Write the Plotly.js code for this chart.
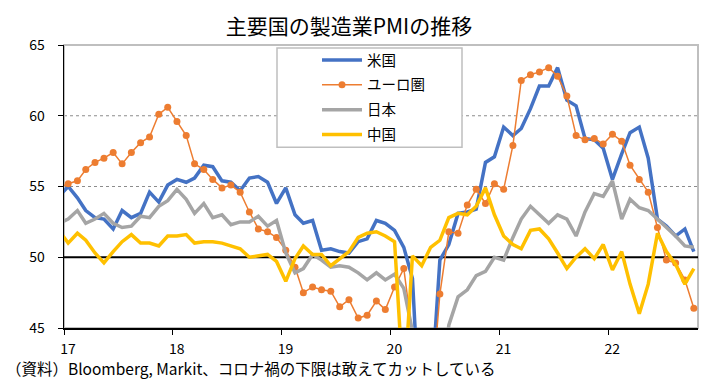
<!DOCTYPE html>
<html>
<head>
<meta charset="utf-8">
<script src="https://cdn.plot.ly/plotly-3.0.1.min.js"></script>
<style>html,body{margin:0;padding:0;background:#fff;}</style>
</head>
<body>
<div id="chart" style="width:724px;height:392px;"></div>
<script>
// Monthly categories: Dec 2016 .. Oct 2022 (Dec 2016 lies just left of the axis and is clipped)
const firstYear = 2016, firstMonth = 12, monthCount = 71;
const months = [];
for (let k = 0; k < monthCount; k++) {
  const t = (firstMonth - 1) + k;
  const y = firstYear + Math.floor(t / 12);
  const m = (t % 12) + 1;
  months.push(y + '-' + String(m).padStart(2, '0'));
}

const seriesNames = ['米国', 'ユーロ圏', '日本', '中国'];

const usPMI = [54.3,
  55.0, 54.2, 53.3, 52.8, 52.7, 52.0, 53.3, 52.8, 53.1, 54.6, 53.9, 55.1,
  55.5, 55.3, 55.6, 56.5, 56.4, 55.4, 55.3, 54.7, 55.6, 55.7, 55.3, 53.8,
  54.9, 53.0, 52.4, 52.6, 50.5, 50.6, 50.4, 50.3, 51.1, 51.3, 52.6, 52.4,
  51.9, 50.7, 48.5, 36.1, 39.8, 49.8, 50.9, 53.1, 53.2, 53.4, 56.7, 57.1,
  59.2, 58.6, 59.1, 60.5, 62.1, 62.1, 63.4, 61.1, 60.7, 58.4, 58.3, 57.7,
  55.5, 57.3, 58.8, 59.2, 57.0, 52.7, 52.2, 51.5, 52.0, 50.4];

const euroPMI = [54.9,
  55.2, 55.4, 56.2, 56.7, 57.0, 57.4, 56.6, 57.4, 58.1, 58.5, 60.1, 60.6,
  59.6, 58.6, 56.6, 56.2, 55.5, 54.9, 55.1, 54.6, 53.2, 52.0, 51.8, 51.4,
  50.5, 49.3, 47.5, 47.9, 47.7, 47.6, 46.5, 47.0, 45.7, 45.9, 46.9, 46.3,
  47.9, 49.2, 44.5, 33.4, 39.4, 47.4, 51.8, 51.7, 53.7, 54.8, 53.8, 55.2,
  54.8, 57.9, 62.5, 62.9, 63.1, 63.4, 62.8, 61.4, 58.6, 58.3, 58.4, 58.0,
  58.7, 58.2, 56.5, 55.5, 54.6, 52.1, 49.8, 49.6, 48.4, 46.4];

const japanPMI = [52.4,
  52.7, 53.3, 52.4, 52.7, 53.1, 52.4, 52.1, 52.2, 52.9, 52.8, 53.6, 54.0,
  54.8, 54.1, 53.1, 53.8, 52.8, 53.0, 52.3, 52.5, 52.5, 52.9, 52.2, 52.6,
  50.3, 48.9, 49.2, 50.2, 49.8, 49.3, 49.4, 49.3, 48.9, 48.4, 48.9, 48.4,
  48.8, 47.8, 44.8, 41.9, 38.4, 40.1, 45.2, 47.2, 47.7, 48.7, 49.0, 50.0,
  49.8, 51.4, 52.7, 53.6, 53.0, 52.4, 53.0, 52.7, 51.5, 53.2, 54.5, 54.3,
  55.4, 52.7, 54.1, 53.5, 53.3, 52.7, 52.1, 51.5, 50.8, 50.7];

const chinaPMI = [51.9,
  51.0, 51.7, 51.2, 50.3, 49.6, 50.4, 51.1, 51.6, 51.0, 51.0, 50.8, 51.5,
  51.5, 51.6, 51.0, 51.1, 51.1, 51.0, 50.8, 50.6, 50.0, 50.1, 50.2, 49.7,
  48.3, 49.9, 50.8, 50.2, 50.2, 49.4, 49.9, 50.4, 51.4, 51.7, 51.8, 51.5,
  51.1, 40.3, 50.1, 49.4, 50.7, 51.2, 52.8, 53.1, 53.0, 53.6, 54.9, 53.0,
  51.5, 50.9, 50.6, 51.9, 52.0, 51.3, 50.3, 49.2, 50.0, 50.6, 49.9, 50.9,
  49.1, 50.4, 48.1, 46.0, 48.1, 51.7, 50.4, 49.5, 48.1, 49.2];

const xTickDates = ['2017-01-01', '2018-01-01', '2019-01-01', '2020-01-01', '2021-01-01', '2022-01-01'];
const xTickLabels = ['17', '18', '19', '20', '21', '22'];
const yTickVals = [45, 50, 55, 60, 65];

const titleText = '主要国の製造業PMIの推移';
const noteText = '（資料）Bloomberg, Markit、コロナ禍の下限は敢えてカットしている';

// ---- build ----
const xs = months.map(m => m + '-15');  // plotted mid-month
const FONT = '"Noto Sans CJK JP", "Noto Sans", sans-serif';

const traces = [
  {x: xs, y: usPMI, name: seriesNames[0], mode: 'lines', legendgroup: 'g1',
   line: {color: '#4472C4', width: 3.5}},
  {x: xs, y: euroPMI, name: seriesNames[1], mode: 'lines+markers', legendgroup: 'g2',
   line: {color: '#ED7D31', width: 1.5}, marker: {color: '#ED7D31', size: 7}},
  {x: xs, y: japanPMI, name: seriesNames[2], mode: 'lines', legendgroup: 'g3',
   line: {color: '#A5A5A5', width: 3.5}},
  {x: xs, y: chinaPMI, name: seriesNames[3], mode: 'lines', legendgroup: 'g4',
   line: {color: '#FFC000', width: 3.5}}
];

// pixel geometry helpers
const W = 724, H = 392;
const L = 64, R = 698, T = 45, B = 328.5;
const px2x = p => (p - L) / (R - L);
const px2y = p => (B - p) / (B - T);

const shapes = [
  // dashed gridlines
  {type: 'line', xref: 'paper', x0: 0, x1: 1, yref: 'y', y0: 55, y1: 55, layer: 'below',
   line: {color: '#8C8C8C', width: 1, dash: '3px,3px'}},
  {type: 'line', xref: 'paper', x0: 0, x1: 1, yref: 'y', y0: 60, y1: 60, layer: 'below',
   line: {color: '#8C8C8C', width: 1, dash: '3px,3px'}},
  // plot border (top/right grey)
  {type: 'rect', xref: 'paper', yref: 'paper', x0: 0, x1: 1, y0: 0, y1: 1, layer: 'below',
   line: {color: '#BFBFBF', width: 2}},
  // legend box
  {type: 'rect', xref: 'paper', yref: 'paper', x0: px2x(277), x1: px2x(462), y0: px2y(147.5), y1: px2y(48),
   layer: 'below', fillcolor: '#FFFFFF', line: {color: '#BFBFBF', width: 1.5}},
  // 50 line
  {type: 'line', xref: 'paper', x0: 0, x1: 1, yref: 'y', y0: 50, y1: 50, layer: 'below',
   line: {color: '#000000', width: 2}}
];

const layout = {
  width: W, height: H,
  margin: {l: L, r: W - R, t: T, b: H - B, pad: 0},
  paper_bgcolor: '#FFFFFF', plot_bgcolor: 'rgba(0,0,0,0)',
  font: {family: FONT, color: '#000000', size: 14},
  title: {text: titleText, font: {family: FONT, size: 21, color: '#000000'},
          xref: 'container', x: 349 / W, xanchor: 'center',
          yref: 'container', y: 1 - 27 / H, yanchor: 'middle'},
  xaxis: {type: 'date', range: ['2017-01-01', '2022-10-29'],
          tickmode: 'array', tickvals: xTickDates, ticktext: xTickLabels,
          ticks: 'outside', ticklen: 5, tickcolor: '#000000', tickwidth: 1,
          showline: true, linecolor: '#000000', linewidth: 1.5,
          showgrid: false, zeroline: false, fixedrange: true,
          tickfont: {family: FONT, size: 14, color: '#000000'},
          ticklabelstandoff: 3, ticklabelshift: 4},
  yaxis: {range: [45, 65], tickmode: 'array', tickvals: yTickVals,
          ticks: 'outside', ticklen: 5, tickcolor: '#000000', tickwidth: 1,
          showline: true, linecolor: '#000000', linewidth: 1.5,
          showgrid: false, zeroline: false, fixedrange: true,
          tickfont: {family: FONT, size: 14, color: '#000000'},
          ticklabelstandoff: 10},
  showlegend: true,
  legend: {x: px2x(317), xanchor: 'left', y: px2y(44), yanchor: 'top',
           bgcolor: 'rgba(0,0,0,0)', borderwidth: 0, tracegroupgap: 3,
           itemwidth: 40, font: {family: FONT, size: 14.5, color: '#000000'}},
  shapes: shapes,
  annotations: [
    {text: noteText, xref: 'paper', yref: 'paper', x: px2x(4), y: px2y(369),
     xanchor: 'left', yanchor: 'middle', showarrow: false,
     font: {family: FONT, size: 15.5, color: '#000000'}}
  ]
};

Plotly.newPlot('chart', traces, layout, {displayModeBar: false, staticPlot: true});
</script>
</body>
</html>
